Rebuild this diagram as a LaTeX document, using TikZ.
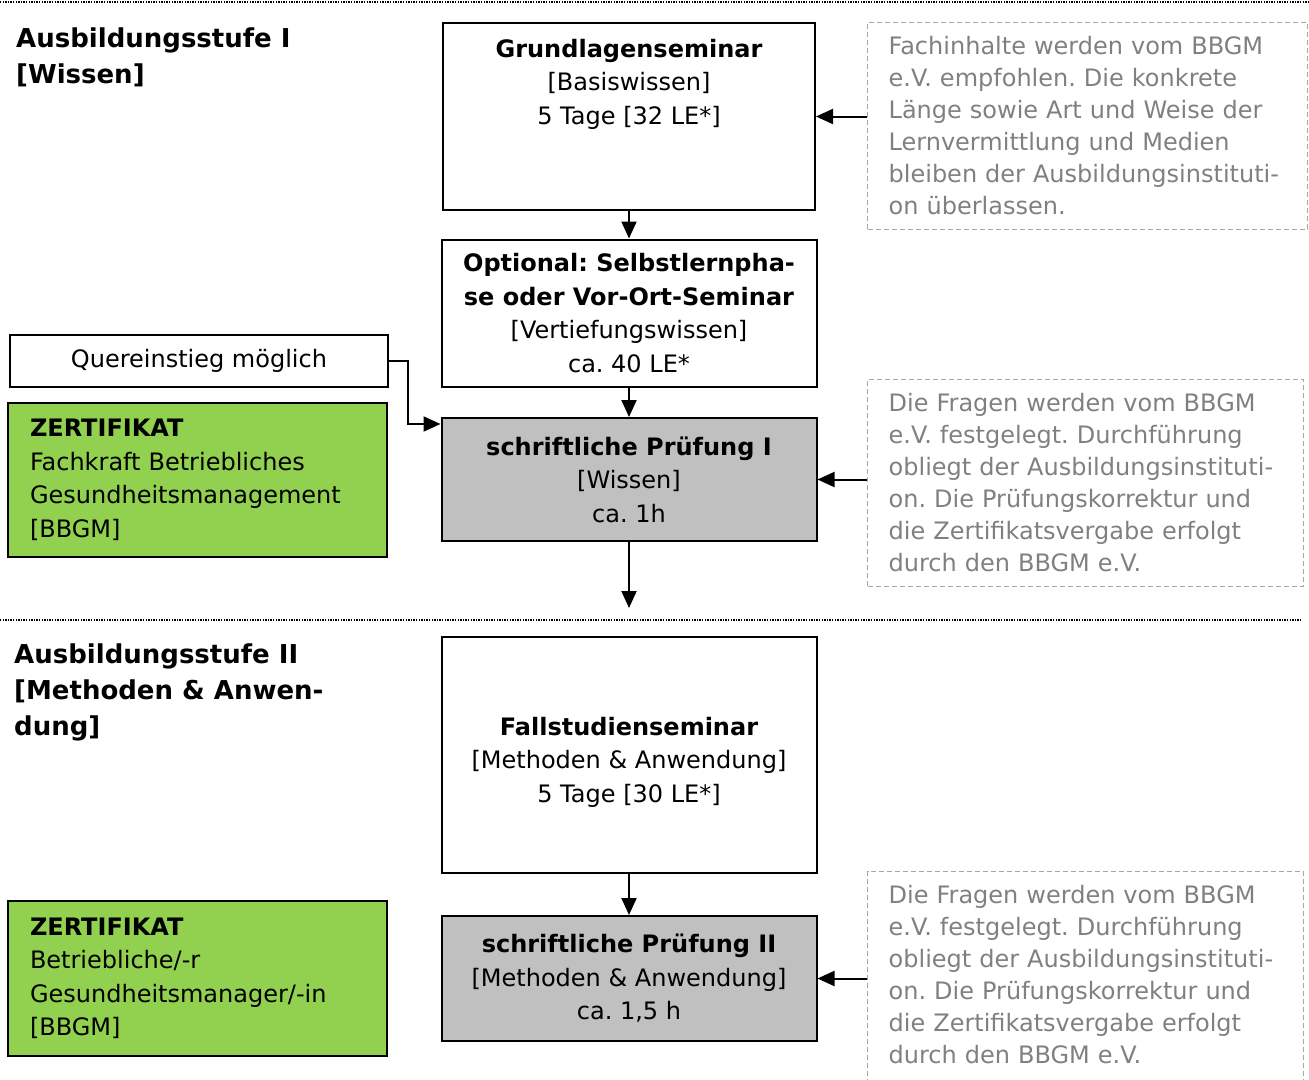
\documentclass[tikz,border=0pt]{standalone}
\usepackage{fontspec}
\setmainfont{DejaVu Sans}
\usetikzlibrary{positioning,calc,arrows.meta}
\frenchspacing

\definecolor{zertgreen}{HTML}{92D050}
\definecolor{examgray}{HTML}{C0C0C0}
\definecolor{notetext}{HTML}{808080}
\definecolor{noteline}{HTML}{A6A6A6}

\tikzset{
  every node/.style={font=\fontsize{24}{33.5}\selectfont},
  stagebox/.style={draw=black,line width=2pt,minimum width=375pt,align=center,inner sep=0pt},
  exambox/.style={stagebox,fill=examgray},
  zertbox/.style={draw=black,line width=2pt,fill=zertgreen,text width=335pt,align=left,inner xsep=22pt,inner ysep=0pt},
  notebox/.style={draw=noteline,line width=1.3pt,dash pattern=on 5pt off 3pt,text=notetext,font=\fontsize{24}{32}\selectfont,align=left,inner xsep=21pt,inner ysep=14pt,anchor=north west},
  stufe/.style={font=\fontsize{26}{36}\selectfont\bfseries,align=left,inner sep=0pt,anchor=north west},
  flow/.style={-{Triangle[length=17pt,width=15pt]},line width=2pt},
  trenner/.style={line width=1.3pt,dash pattern=on 1.3pt off 1.3pt}
}

\begin{document}
\begin{tikzpicture}[x=1pt,y=-1pt]
\useasboundingbox (0,0) rectangle (1309,1079);
\clip (0,0) rectangle (1309,1079);

% Ausbildungsstufe I
\draw[trenner] (0,2) -- (1309,2);
\node[stufe] (stufe1) at (16,28) {Ausbildungsstufe I\\{[}Wissen{]}};

\node[stagebox,minimum width=372pt,minimum height=187pt,anchor=north,
  label={[anchor=north,yshift=-17pt,inner sep=0pt,align=center]north:\textbf{Grundlagenseminar}\\{[}Basiswissen{]}\\5 Tage {[}32 LE*{]}}] (grund) at (629,22) {};
\node[stagebox,minimum height=147pt] (opt) at (629,313) {\textbf{Optional: Selbstlernpha-}\\\textbf{se oder Vor-Ort-Seminar}\\{[}Vertiefungswissen{]}\\ca. 40 LE*};
\node[draw=black,line width=2pt,minimum width=378pt,minimum height=52pt,inner sep=0pt] (quer) at (199,361) {Quereinstieg möglich};
\node[zertbox,minimum height=154pt] (zert1) at (197.5,480) {\textbf{ZERTIFIKAT}\\Fachkraft Betriebliches\\Gesundheitsmanagement\\{[}BBGM{]}};
\node[exambox,minimum height=123pt] (pruef1) at (629,479.5) {\textbf{schriftliche Prüfung I}\\{[}Wissen{]}\\ca. 1h};

\node[notebox,text width=398pt] (hinweis1) at (867,22) {Fachinhalte werden vom BBGM\\e.V. empfohlen. Die konkrete\\Länge sowie Art und Weise der\\Lernvermittlung und Medien\\bleiben der Ausbildungsinstituti-\\on überlassen.};
\node[notebox,text width=394pt] (hinweis2) at (867,379) {Die Fragen werden vom BBGM\\e.V. festgelegt. Durchführung\\obliegt der Ausbildungsinstituti-\\on. Die Prüfungskorrektur und\\die Zertifikatsvergabe erfolgt\\durch den BBGM e.V.};

\coordinate (weiter) at (629,608);

\draw[flow] (grund) -- (opt);
\draw[flow] (opt) -- (pruef1);
\draw[flow] (pruef1) -- (weiter);
\draw[flow] (quer.east) -| ([xshift=-33pt,yshift=-7pt]pruef1.north west) -- ([yshift=-7pt]pruef1.north west);
\draw[flow] (hinweis1.west |- grund.east) -- (grund.east);
\draw[flow] (hinweis2.west |- pruef1.east) -- (pruef1.east);

% Ausbildungsstufe II
\draw[trenner] (0,620) -- (1302,620);
\node[stufe] (stufe2) at (14,644) {Ausbildungsstufe II\\{[}Methoden \& Anwen-\\dung{]}};

\node[stagebox,minimum height=236pt,anchor=north,
  label={[anchor=north,yshift=-81pt,inner sep=0pt,align=center]north:\textbf{Fallstudienseminar}\\{[}Methoden \& Anwendung{]}\\5 Tage {[}30 LE*{]}}] (fall) at (629,636) {};
\node[exambox,minimum height=125pt] (pruef2) at (629,978.5) {\textbf{schriftliche Prüfung II}\\{[}Methoden \& Anwendung{]}\\ca. 1,5 h};
\node[zertbox,minimum height=155pt] (zert2) at (197.5,978.5) {\textbf{ZERTIFIKAT}\\Betriebliche/-r\\Gesundheitsmanager/-in\\{[}BBGM{]}};
\node[notebox,text width=394pt,text depth=210pt] (hinweis3) at (867,871) {Die Fragen werden vom BBGM\\e.V. festgelegt. Durchführung\\obliegt der Ausbildungsinstituti-\\on. Die Prüfungskorrektur und\\die Zertifikatsvergabe erfolgt\\durch den BBGM e.V.};

\draw[flow] (fall) -- (pruef2);
\draw[flow] (hinweis3.west |- pruef2.east) -- (pruef2.east);
\end{tikzpicture}
\end{document}
